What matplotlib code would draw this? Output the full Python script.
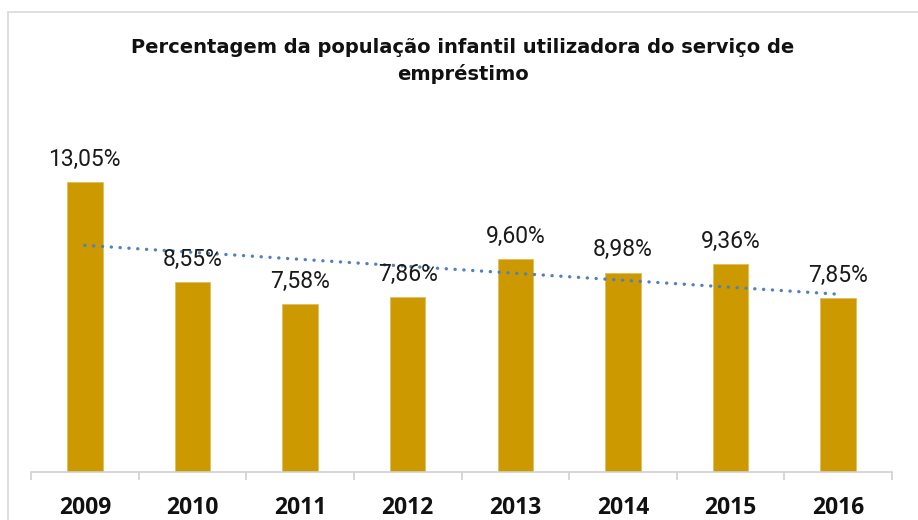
import matplotlib
matplotlib.use("Agg")
import matplotlib.pyplot as plt
import numpy as np
from matplotlib.patches import Rectangle

years = ["2009", "2010", "2011", "2012", "2013", "2014", "2015", "2016"]
values = [13.05, 8.55, 7.58, 7.86, 9.60, 8.98, 9.36, 7.85]
labels = ["13,05%", "8,55%", "7,58%", "7,86%", "9,60%", "8,98%", "9,36%", "7,85%"]
title = "Percentagem da população infantil utilizadora do serviço de\nempréstimo"

fig = plt.figure(figsize=(9.18, 5.2), dpi=100)
ax = fig.add_axes([31/918, 1-472/520, (892-31)/918, (472-161)/520])

x = np.arange(len(years))
ax.bar(x, values, width=0.33, color="#CC9900", edgecolor="#E0BE5C", linewidth=0.6, zorder=2)

# linear trend line
coef = np.polyfit(x, values, 1)
trend = np.polyval(coef, x)
ax.plot(x, trend, color="#4F81BD", linestyle=(0, (0.05, 2.6)), linewidth=2.4,
        dash_capstyle="round", solid_capstyle="round", zorder=3)

for xi, v, lab in zip(x, values, labels):
    ax.text(xi, v + 0.5, lab, ha="center", va="bottom", fontsize=16.5,
            family="Roboto", color="#1a1a1a", clip_on=False, zorder=4)

ax.set_xlim(-0.5, len(years) - 0.5)
ax.set_ylim(0, 14)
ax.set_yticks([])
for s in ["top", "right", "left"]:
    ax.spines[s].set_visible(False)
ax.spines["bottom"].set_color("#D0D0D0")
ax.spines["bottom"].set_linewidth(1.2)

ax.set_xticks(x)
ax.set_xticklabels(years, fontsize=16.5, fontweight="bold", family="Open Sans", color="#111111")
ax.tick_params(axis="x", which="major", length=0, pad=17)
ax.set_xticks(np.arange(-0.5, len(years), 1.0), minor=True)
ax.tick_params(axis="x", which="minor", length=6, color="#D0D0D0", width=1.2)

fig.text(463/918, 1-61/520, title, ha="center", va="center", fontsize=14,
         fontweight="bold", family="DejaVu Sans", color="#111111", linespacing=1.4)

fig.patches.append(Rectangle((8/918, -0.1), 1.0, 1.1 - 12/520, transform=fig.transFigure,
                             fill=False, edgecolor="#D9D9D9", linewidth=1.2))

fig.savefig("out.png", dpi=100)
